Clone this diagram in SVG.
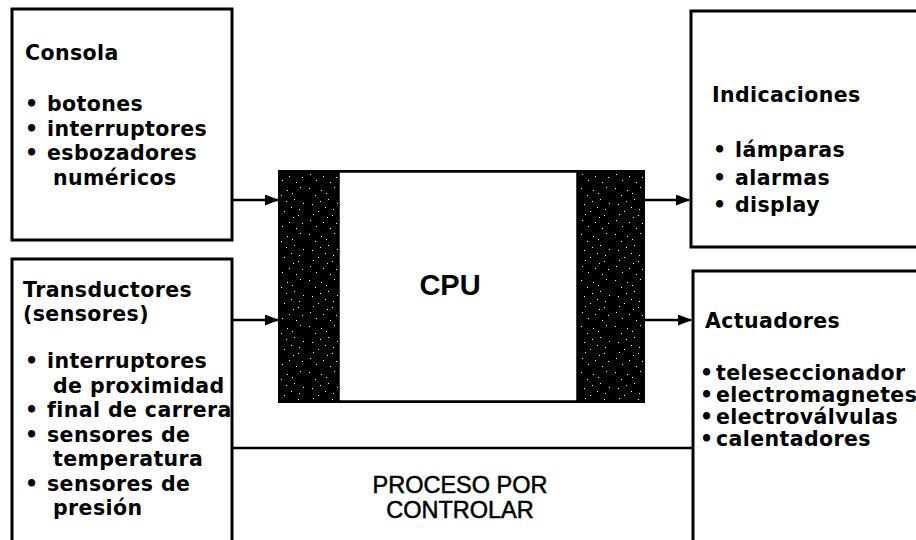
<svg xmlns="http://www.w3.org/2000/svg" width="916" height="540" viewBox="0 0 916 540">
<style>
.box{fill:#fff;stroke:#000;stroke-width:3}
.t{font-family:"DejaVu Sans",sans-serif;font-weight:bold;font-size:20.5px;letter-spacing:0.4px;fill:#000}
.p{font-family:"Liberation Sans",Arial,sans-serif;font-size:23.5px;fill:#000;stroke:#000;stroke-width:0.5;text-anchor:middle}
.cpu{font-family:"Liberation Sans",Arial,sans-serif;font-weight:bold;font-size:29px;fill:#000;text-anchor:middle}
.ln{fill:none;stroke:#000;stroke-width:2.5}
</style>
<defs>
<marker id="ah" markerWidth="14" markerHeight="11" refX="13" refY="5.5" orient="auto" markerUnits="userSpaceOnUse">
<path d="M0,0 L14,5.5 L0,11 z" fill="#000"/>
</marker>
<pattern id="stip" width="34" height="46" patternUnits="userSpaceOnUse">
<rect width="34" height="46" fill="#000"/>
<g fill="#fff">
<rect x="3" y="4" width="1" height="1"/><rect x="9" y="11" width="1" height="1"/><rect x="15" y="6" width="1" height="1"/>
<rect x="22" y="15" width="1" height="1"/><rect x="28" y="3" width="1" height="1"/><rect x="6" y="20" width="1" height="1"/>
<rect x="12" y="27" width="1" height="1"/><rect x="19" y="23" width="1" height="1"/><rect x="26" y="31" width="1" height="1"/>
<rect x="31" y="19" width="1" height="1"/><rect x="4" y="36" width="1" height="1"/><rect x="10" y="42" width="1" height="1"/>
<rect x="17" y="38" width="1" height="1"/><rect x="24" y="44" width="1" height="1"/><rect x="30" y="39" width="1" height="1"/>
<rect x="20" y="9" width="1" height="1"/><rect x="14" y="17" width="1" height="1"/><rect x="27" y="25" width="1" height="1"/>
<rect x="7" y="30" width="1" height="1"/><rect x="21" y="33" width="1" height="1"/>
</g>
</pattern>
</defs>

<g id="consola">
<rect class="box" x="12" y="9" width="220" height="231"/>
<text class="t" x="25" y="60">Consola</text>
<text class="t" x="25" y="111">•</text><text class="t" x="47" y="111">botones</text>
<text class="t" x="25" y="135.5">•</text><text class="t" x="47" y="135.5">interruptores</text>
<text class="t" x="25" y="160">•</text><text class="t" x="47" y="160">esbozadores</text>
<text class="t" x="53" y="184.5">numéricos</text>
</g>

<g id="transductores">
<rect class="box" x="12" y="259" width="220" height="300"/>
<text class="t" x="23" y="297">Transductores</text>
<text class="t" x="23" y="321">(sensores)</text>
<text class="t" x="25" y="368">•</text><text class="t" x="47" y="368">interruptores</text>
<text class="t" x="53" y="392.5">de proximidad</text>
<text class="t" x="25" y="417">•</text><text class="t" x="47" y="417">final de carrera</text>
<text class="t" x="25" y="441.5">•</text><text class="t" x="47" y="441.5">sensores de</text>
<text class="t" x="53" y="466">temperatura</text>
<text class="t" x="25" y="490.5">•</text><text class="t" x="47" y="490.5">sensores de</text>
<text class="t" x="53" y="515">presión</text>
</g>

<g id="cpu">
<rect x="278" y="170" width="367" height="233" fill="#000"/>
<rect x="280" y="172" width="59" height="229" fill="url(#stip)"/>
<rect x="577" y="172" width="66" height="229" fill="url(#stip)"/>
<rect x="339" y="172" width="238" height="229" fill="#fff" stroke="#000" stroke-width="1.5"/>
<text class="cpu" x="450" y="295">CPU</text>
</g>

<g id="indicaciones">
<rect class="box" x="691" y="11" width="240" height="236"/>
<text class="t" x="712" y="102">Indicaciones</text>
<text class="t" x="713" y="157">•</text><text class="t" x="735" y="157">lámparas</text>
<text class="t" x="713" y="184.5">•</text><text class="t" x="735" y="184.5">alarmas</text>
<text class="t" x="713" y="212">•</text><text class="t" x="735" y="212">display</text>
</g>

<g id="actuadores">
<rect class="box" x="693" y="271" width="240" height="290"/>
<text class="t" x="705" y="328">Actuadores</text>
<text class="t" x="700" y="380">•</text><text class="t" x="716" y="380">teleseccionador</text>
<text class="t" x="700" y="402">•</text><text class="t" x="716" y="402">electromagnetes</text>
<text class="t" x="700" y="424">•</text><text class="t" x="716" y="424">electroválvulas</text>
<text class="t" x="700" y="446">•</text><text class="t" x="716" y="446">calentadores</text>
</g>

<g id="proceso">
<text class="p" x="460" y="493">PROCESO POR</text>
<text class="p" x="460" y="518">CONTROLAR</text>
</g>

<g id="connectors">
<line class="ln" x1="232" y1="200" x2="278" y2="200" marker-end="url(#ah)"/>
<line class="ln" x1="232" y1="320" x2="278" y2="320" marker-end="url(#ah)"/>
<line class="ln" x1="645" y1="200" x2="689" y2="200" marker-end="url(#ah)"/>
<line class="ln" x1="645" y1="320" x2="691" y2="320" marker-end="url(#ah)"/>
<line class="ln" x1="232" y1="448" x2="693" y2="448"/>
</g>
</svg>
